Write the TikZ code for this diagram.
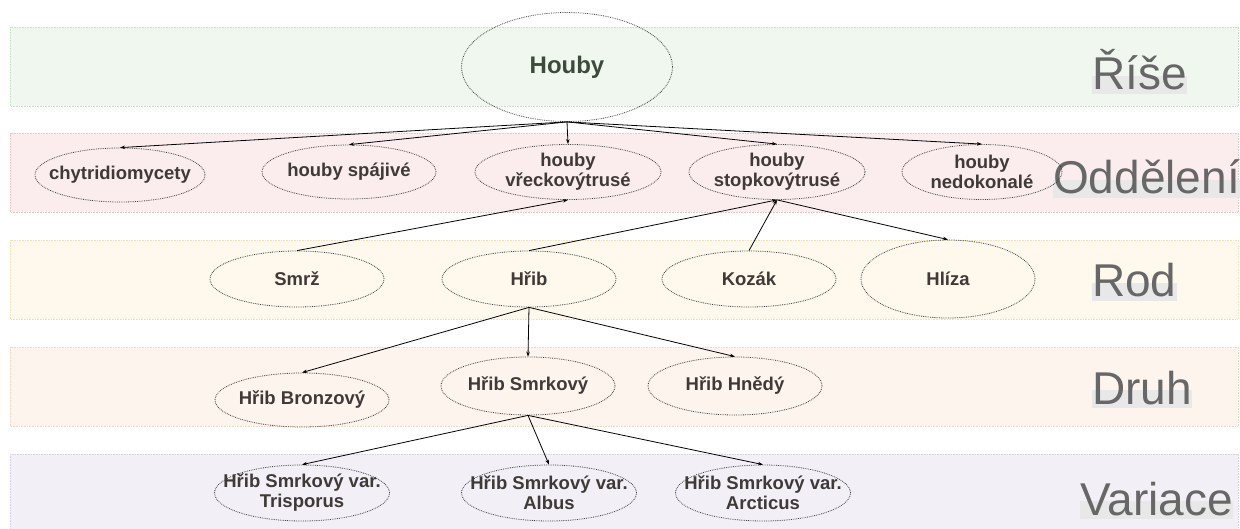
\documentclass[tikz,border=0pt]{standalone}
\usepackage{fontspec}
\setmainfont{Liberation Sans}
\usetikzlibrary{shapes.geometric,arrows.meta,backgrounds}

\definecolor{bAfill}{HTML}{EFF7EF}\definecolor{bAline}{HTML}{C8E2C4}
\definecolor{bBfill}{HTML}{FBEDED}\definecolor{bBline}{HTML}{EBC8C8}
\definecolor{bCfill}{HTML}{FEF9EC}\definecolor{bCline}{HTML}{F1E2B8}
\definecolor{bDfill}{HTML}{FDF4EE}\definecolor{bDline}{HTML}{F2D8C2}
\definecolor{bEfill}{HTML}{F2F0F6}\definecolor{bEline}{HTML}{D8D2E4}
\definecolor{nodetext}{HTML}{3F3A37}
\definecolor{roottext}{HTML}{3D4A3C}
\definecolor{rankgray}{HTML}{676767}
\definecolor{rankbox}{HTML}{E8E8E8}
\definecolor{rim}{HTML}{404040}

\begin{document}
\begin{tikzpicture}[x=1pt,y=-1pt,
  % fixed-size dotted ellipse; its caption is a centred label, so long
  % captions may run over the rim
  taxon/.style={ellipse, draw=rim, densely dotted, line width=0.8pt,
    minimum width=174pt, minimum height=56pt, inner sep=0pt,
    label={[caption]center:#1}},
  caption/.style={align=center, inner sep=0pt, text=nodetext,
    font=\fontsize{18.5}{20}\selectfont\bfseries},
  link/.style={-{Stealth[length=5pt,width=3.5pt]}, line width=0.8pt, black},
  rank/.style={font=\fontsize{46}{46}\selectfont, text=rankgray,
    anchor=base west, inner sep=0pt},
  band/.style={densely dotted, line width=0.6pt}]
\useasboundingbox (0,0) rectangle (1240,529);

% ranks
\node[rank] (rA) at (1092,90)  {Říše};
\node[rank] (rB) at (1053,194) {Oddělení};
\node[rank] (rC) at (1092,297) {Rod};
\node[rank] (rD) at (1092,404) {Druh};
\node[rank] (rE) at (1080,515) {Variace};

% kingdom
\node[ellipse, draw=rim, densely dotted, line width=0.8pt,
  minimum width=211pt, minimum height=109pt, inner sep=0pt,
  font=\fontsize{24}{26}\selectfont\bfseries, text=roottext] (houby) at (567,67) {Houby};

% divisions
\node[taxon=chytridiomycety, minimum width=170pt, minimum height=54pt] (chyt) at (120,175) {};
\node[taxon=houby spájivé, minimum height=54pt] (spaj) at (349,172) {};
\node[taxon={houby\\vřeckovýtrusé}, minimum width=186pt, minimum height=55pt] (vreck) at (568,172) {};
\node[taxon={houby\\stopkovýtrusé}, minimum width=176pt, minimum height=55pt] (stop) at (777,172) {};
\node[taxon={houby\\nedokonalé}, minimum width=160pt, minimum height=55pt] (nedo) at (982,172) {};

% genera
\node[taxon=Smrž]  (smrz)  at (297,279) {};
\node[taxon=Hřib]  (hrib)  at (529,279) {};
\node[taxon=Kozák] (kozak) at (749,279) {};
\node[taxon=Hlíza, minimum height=78pt] (hliza) at (948,279) {};

% species
\node[taxon=Hřib Bronzový, minimum height=54pt] (bronz) at (302,400) {};
\node[taxon=Hřib Smrkový, minimum height=58pt]  (smrk)  at (528,386) {};
\node[taxon=Hřib Hnědý, minimum height=58pt]    (hned)  at (735,386) {};

% varieties
\node[taxon={Hřib Smrkový var.\\Trisporus}, minimum width=175pt] (tris)  at (302,493) {};
\node[taxon={Hřib Smrkový var.\\Albus}, minimum width=175pt]     (albus) at (549,493) {};
\node[taxon={Hřib Smrkový var.\\Arcticus}, minimum width=175pt]  (arct)  at (763,493) {};

% connectors
\foreach \c in {chyt,spaj,vreck,stop,nedo} \draw[link] (houby.south) -- (\c.north);
\draw[link] (smrz.north) -- (vreck.south);
\draw[link] (hrib.north) -- (stop.south);
\draw[link] (kozak.north) -- (stop.south);
\draw[link] (stop.south) -- (hliza.north);
\foreach \c in {bronz,smrk,hned} \draw[link] (hrib.south) -- (\c.north);
\foreach \c in {tris,albus,arct} \draw[link] (smrk.south) -- (\c.north);

\begin{pgfonlayer}{background}
  \filldraw[band, fill=bAfill, draw=bAline] (10,27)  rectangle (1238,106);
  \filldraw[band, fill=bBfill, draw=bBline] (10,133) rectangle (1238,212);
  \filldraw[band, fill=bCfill, draw=bCline] (10,240) rectangle (1238,319);
  \filldraw[band, fill=bDfill, draw=bDline] (10,347) rectangle (1238,426);
  \filldraw[band, fill=bEfill, draw=bEline] (10,454) rectangle (1238,532);
  \foreach \r in {rA,rB,rC,rD,rE}
    \fill[rankbox] ([yshift=-4pt]\r.base west) rectangle ([yshift=14pt]\r.base east);
\end{pgfonlayer}
\end{tikzpicture}
\end{document}
